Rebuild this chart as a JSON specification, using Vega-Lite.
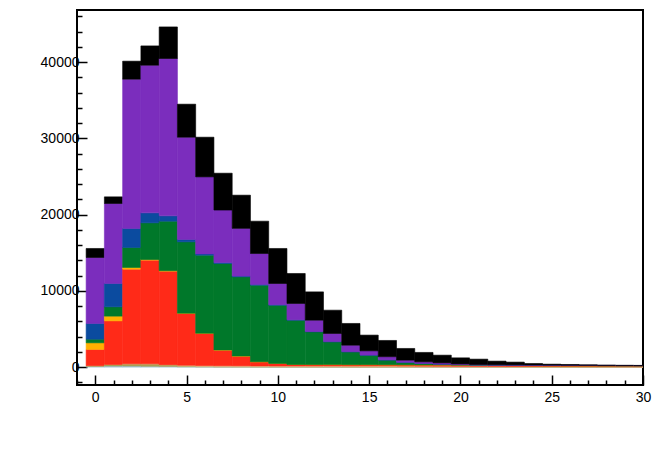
{
  "$schema": "https://vega.github.io/schema/vega-lite/v6.json",
  "width": 566,
  "height": 375,
  "autosize": "none",
  "padding": {"left": 77, "top": 10, "right": 11, "bottom": 77},
  "background": "white",
  "config": {
    "view": {"stroke": "black", "strokeWidth": 2},
    "axis": {
      "domain": false,
      "grid": false,
      "tickColor": "black",
      "tickWidth": 1.5,
      "labelColor": "black",
      "labelFont": "Liberation Sans",
      "labelFontSize": 14,
      "title": null
    }
  },
  "data": {
    "values": [
      {"bin": 0, "lb": 100, "olive": 100, "tan": 0, "red": 2120, "orange": 870, "green": 480, "blue": 2060, "purple": 8650, "black": 1180},
      {"bin": 1, "lb": 150, "olive": 200, "tan": 0, "red": 5720, "orange": 620, "green": 1220, "blue": 3060, "purple": 10490, "black": 870},
      {"bin": 2, "lb": 150, "olive": 280, "tan": 0, "red": 12420, "orange": 220, "green": 2620, "blue": 2490, "purple": 19580, "black": 2360},
      {"bin": 3, "lb": 120, "olive": 300, "tan": 10, "red": 13600, "orange": 80, "green": 4810, "blue": 1310, "purple": 19360, "black": 2530},
      {"bin": 4, "lb": 100, "olive": 200, "tan": 30, "red": 12260, "orange": 50, "green": 6500, "blue": 700, "purple": 20630, "black": 4140},
      {"bin": 5, "lb": 60, "olive": 80, "tan": 110, "red": 6790, "orange": 30, "green": 9360, "blue": 310, "purple": 13410, "black": 4330},
      {"bin": 6, "lb": 40, "olive": 40, "tan": 120, "red": 4220, "orange": 20, "green": 10240, "blue": 170, "purple": 10100, "black": 5200},
      {"bin": 7, "lb": 30, "olive": 30, "tan": 120, "red": 2050, "orange": 20, "green": 11340, "blue": 120, "purple": 6890, "black": 4830},
      {"bin": 8, "lb": 30, "olive": 20, "tan": 120, "red": 1270, "orange": 15, "green": 10385, "blue": 100, "purple": 6260, "black": 4350},
      {"bin": 9, "lb": 25, "olive": 20, "tan": 115, "red": 540, "orange": 10, "green": 10040, "blue": 80, "purple": 4070, "black": 4240},
      {"bin": 10, "lb": 20, "olive": 20, "tan": 110, "red": 330, "orange": 10, "green": 7640, "blue": 60, "purple": 2780, "black": 4590},
      {"bin": 11, "lb": 20, "olive": 15, "tan": 115, "red": 190, "orange": 5, "green": 5815, "blue": 50, "purple": 2140, "black": 3930},
      {"bin": 12, "lb": 15, "olive": 15, "tan": 120, "red": 180, "orange": 5, "green": 4295, "blue": 40, "purple": 1490, "black": 3710},
      {"bin": 13, "lb": 15, "olive": 15, "tan": 120, "red": 180, "orange": 5, "green": 2985, "blue": 30, "purple": 1070, "black": 3050},
      {"bin": 14, "lb": 10, "olive": 15, "tan": 125, "red": 170, "orange": 5, "green": 1685, "blue": 20, "purple": 850, "black": 2850},
      {"bin": 15, "lb": 10, "olive": 10, "tan": 130, "red": 170, "orange": 5, "green": 1245, "blue": 15, "purple": 555, "black": 2060},
      {"bin": 16, "lb": 10, "olive": 10, "tan": 130, "red": 160, "orange": 5, "green": 625, "blue": 15, "purple": 415, "black": 2130},
      {"bin": 17, "lb": 10, "olive": 10, "tan": 120, "red": 160, "orange": 5, "green": 325, "blue": 10, "purple": 280, "black": 1530},
      {"bin": 18, "lb": 10, "olive": 10, "tan": 110, "red": 160, "orange": 3, "green": 187, "blue": 10, "purple": 210, "black": 1230},
      {"bin": 19, "lb": 8, "olive": 10, "tan": 102, "red": 160, "orange": 3, "green": 107, "blue": 8, "purple": 162, "black": 1010},
      {"bin": 20, "lb": 8, "olive": 10, "tan": 92, "red": 150, "orange": 3, "green": 67, "blue": 6, "purple": 84, "black": 800},
      {"bin": 21, "lb": 8, "olive": 8, "tan": 84, "red": 140, "orange": 2, "green": 48, "blue": 5, "purple": 55, "black": 700},
      {"bin": 22, "lb": 6, "olive": 8, "tan": 81, "red": 130, "orange": 2, "green": 43, "blue": 4, "purple": 46, "black": 470},
      {"bin": 23, "lb": 6, "olive": 8, "tan": 76, "red": 120, "orange": 2, "green": 43, "blue": 3, "purple": 42, "black": 360},
      {"bin": 24, "lb": 5, "olive": 7, "tan": 73, "red": 115, "orange": 2, "green": 43, "blue": 3, "purple": 32, "black": 200},
      {"bin": 25, "lb": 5, "olive": 7, "tan": 68, "red": 110, "orange": 2, "green": 43, "blue": 2, "purple": 28, "black": 125},
      {"bin": 26, "lb": 5, "olive": 5, "tan": 65, "red": 105, "orange": 2, "green": 43, "blue": 2, "purple": 23, "black": 100},
      {"bin": 27, "lb": 4, "olive": 6, "tan": 60, "red": 105, "orange": 1, "green": 39, "blue": 2, "purple": 21, "black": 62},
      {"bin": 28, "lb": 4, "olive": 5, "tan": 56, "red": 105, "orange": 1, "green": 37, "blue": 2, "purple": 18, "black": 42},
      {"bin": 29, "lb": 4, "olive": 5, "tan": 51, "red": 105, "orange": 1, "green": 34, "blue": 2, "purple": 16, "black": 27},
      {"bin": 30, "lb": 3, "olive": 5, "tan": 47, "red": 105, "orange": 1, "green": 34, "blue": 2, "purple": 13, "black": 20}
    ]
  },
  "transform": [
    {"fold": ["lb", "olive", "tan", "red", "orange", "green", "blue", "purple", "black"], "as": ["comp", "v"]},
    {"calculate": "indexof(['lb','olive','tan','red','orange','green','blue','purple','black'], datum.comp)", "as": "ord"},
    {"calculate": "datum.bin - 0.5", "as": "lo"},
    {"calculate": "datum.bin + 0.5", "as": "hi"},
    {"stack": "v", "groupby": ["bin"], "sort": [{"field": "ord", "order": "ascending"}], "as": ["y0", "y1"]}
  ],
  "layer": [
    {
      "mark": {"type": "bar", "clip": true, "strokeWidth": 0.6},
      "encoding": {
        "x": {
          "field": "lo", "type": "quantitative",
          "scale": {"domain": [-1, 30], "nice": false, "zero": false},
          "axis": {"orient": "bottom", "values": [0, 5, 10, 15, 20, 25, 30], "format": "d", "tickSize": -10, "labelPadding": 15, "labelFlush": false}
        },
        "x2": {"field": "hi"},
        "y": {
          "field": "y0", "type": "quantitative",
          "scale": {"domain": [-2340, 46830], "nice": false, "zero": false},
          "axis": {"orient": "left", "values": [0, 10000, 20000, 30000, 40000], "format": "d", "tickSize": -10, "labelPadding": 8}
        },
        "y2": {"field": "y1"},
        "color": {
          "field": "comp", "type": "nominal",
          "scale": {
            "domain": ["lb", "olive", "tan", "red", "orange", "green", "blue", "purple", "black"],
            "range": ["#9cc3d5", "#a9a052", "#e2c08e", "#ff2a18", "#ffb000", "#00782a", "#0b4b9f", "#7b2dbd", "#000000"]
          },
          "legend": null
        },
        "stroke": {
          "field": "comp", "type": "nominal",
          "scale": {
            "domain": ["lb", "olive", "tan", "red", "orange", "green", "blue", "purple", "black"],
            "range": ["#9cc3d5", "#a9a052", "#e2c08e", "#ff2a18", "#ffb000", "#00782a", "#0b4b9f", "#7b2dbd", "#000000"]
          },
          "legend": null
        }
      }
    },
    {
      "mark": {"type": "point", "opacity": 0},
      "encoding": {
        "x": {
          "field": "lo", "type": "quantitative",
          "axis": {"orient": "bottom", "labels": false, "tickSize": -5,
                   "values": [-1, 1, 2, 3, 4, 6, 7, 8, 9, 11, 12, 13, 14, 16, 17, 18, 19, 21, 22, 23, 24, 26, 27, 28, 29]}
        },
        "y": {
          "field": "y0", "type": "quantitative",
          "axis": {"orient": "left", "labels": false, "tickSize": -5,
                   "values": [-2000, 2000, 4000, 6000, 8000, 12000, 14000, 16000, 18000, 22000, 24000, 26000, 28000, 32000, 34000, 36000, 38000, 42000, 44000, 46000]}
        }
      }
    }
  ],
  "resolve": {"axis": {"x": "independent", "y": "independent"}}
}
